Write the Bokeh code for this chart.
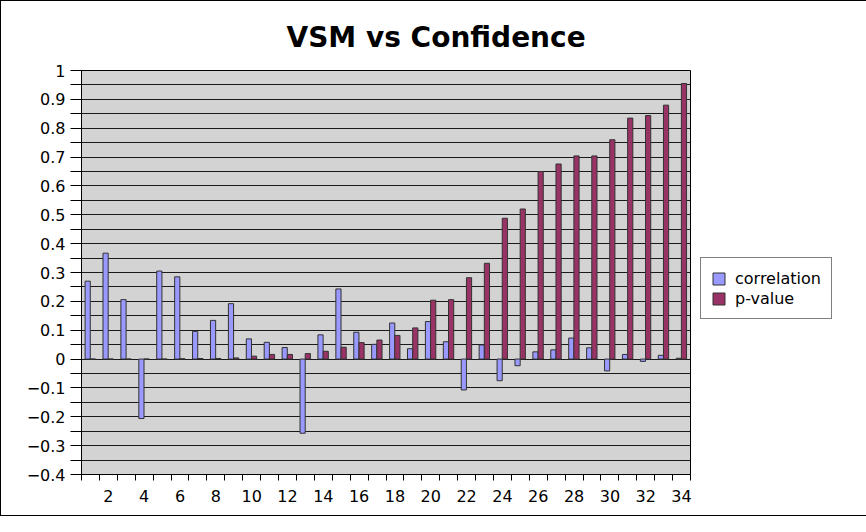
from bokeh.plotting import figure
from bokeh.models import FixedTicker, Legend, LegendItem, ColumnDataSource, Range1d
from bokeh.transform import dodge
from bokeh.embed import file_html
from bokeh.resources import INLINE

categories = list(range(1, 35))
correlation = [0.270, 0.367, 0.206, -0.206, 0.305, 0.285, 0.096, 0.134, 0.192, 0.070,
               0.058, 0.040, -0.257, 0.084, 0.243, 0.093, 0.051, 0.125, 0.036, 0.130,
               0.060, -0.107, 0.049, -0.075, -0.023, 0.025, 0.032, 0.073, 0.039, -0.041,
               0.016, -0.008, 0.013, 0.003]
p_value = [0.000, 0.000, 0.000, 0.000, 0.000, 0.001, 0.002, 0.002, 0.004, 0.010,
           0.016, 0.016, 0.019, 0.027, 0.041, 0.057, 0.066, 0.082, 0.108, 0.204,
           0.206, 0.282, 0.332, 0.488, 0.520, 0.650, 0.676, 0.704, 0.704, 0.760,
           0.835, 0.844, 0.880, 0.955]
y_ticks = [-0.4, -0.3, -0.2, -0.1, 0.0, 0.1, 0.2, 0.3, 0.4, 0.5, 0.6, 0.7, 0.8, 0.9, 1.0]
y_minor = [-0.35, -0.25, -0.15, -0.05, 0.05, 0.15, 0.25, 0.35, 0.45, 0.55, 0.65, 0.75, 0.85, 0.95]
y_labels = ["\u22120.4", "\u22120.3", "\u22120.2", "\u22120.1", "0", "0.1", "0.2", "0.3",
            "0.4", "0.5", "0.6", "0.7", "0.8", "0.9", "1"]
x_label_ticks = [2, 4, 6, 8, 10, 12, 14, 16, 18, 20, 22, 24, 26, 28, 30, 32, 34]
x_bounds = [c - 0.5 for c in categories] + [34.5]

FONT = "DejaVu Sans"

src = ColumnDataSource(dict(cat=categories, corr=correlation, pv=p_value))

p = figure(frame_width=609, frame_height=404, output_backend="svg", toolbar_location=None,
           x_range=Range1d(0.5, 34.5), y_range=Range1d(-0.4, 1.0),
           min_border_left=80, min_border_right=140, min_border_top=69, min_border_bottom=41)
p.styles = {"border": "1px solid black"}

p.background_fill_color = "#d3d3d3"
p.border_fill_color = "white"
p.outline_line_color = "black"
p.outline_line_width = 1

r1 = p.vbar(x=dodge("cat", -0.155, range=p.x_range), top="corr", bottom=0, width=0.29,
            source=src, fill_color="#9999ff", line_color="#333333", line_width=1)
r2 = p.vbar(x=dodge("cat", 0.135, range=p.x_range), top="pv", bottom=0, width=0.29,
            source=src, fill_color="#993366", line_color="#333333", line_width=1)

# y axis
p.yaxis.ticker = FixedTicker(ticks=y_ticks, minor_ticks=y_minor)
p.yaxis.major_label_overrides = {t: l for t, l in zip(y_ticks, y_labels)}
p.yaxis.major_tick_out = 11
p.yaxis.major_tick_in = 0
p.yaxis.minor_tick_out = 11
p.yaxis.minor_tick_in = 0
p.yaxis.major_tick_line_color = "black"
p.yaxis.minor_tick_line_color = "black"
p.yaxis.axis_line_color = "black"
p.yaxis.major_label_text_font = FONT
p.yaxis.major_label_text_font_size = "16px"
p.yaxis.major_label_text_color = "black"
p.yaxis.major_label_standoff = 5

# x axis
p.xaxis.ticker = FixedTicker(ticks=x_label_ticks, minor_ticks=x_bounds)
p.xaxis.major_tick_out = 0
p.xaxis.major_tick_in = 0
p.xaxis.minor_tick_out = 6
p.xaxis.minor_tick_in = 0
p.xaxis.minor_tick_line_color = "black"
p.xaxis.axis_line_color = "black"
p.xaxis.major_label_text_font = FONT
p.xaxis.major_label_text_font_size = "16px"
p.xaxis.major_label_text_color = "black"
p.xaxis.major_label_standoff = 9

# grid
p.xgrid.visible = False
p.ygrid.ticker = FixedTicker(ticks=y_ticks, minor_ticks=y_minor)
p.ygrid.grid_line_color = "#1a1a1a"
p.ygrid.minor_grid_line_color = "#1a1a1a"
p.ygrid.grid_line_width = 1
p.ygrid.minor_grid_line_width = 1

# title
p.title.text = "VSM vs Confidence"
p.title.text_font = FONT
p.title.text_font_size = "28px"
p.title.text_font_style = "bold"
p.title.align = "left"
p.title.offset = 205
p.title.standoff = 34
p.title.text_color = "black"

legend = Legend(items=[LegendItem(label="correlation", renderers=[r1]),
                       LegendItem(label="p-value", renderers=[r2])],
                location=(10, 155), orientation="vertical",
                border_line_color="black", border_line_width=1,
                background_fill_color="white", background_fill_alpha=1,
                label_text_font=FONT, label_text_font_size="16px",
                label_text_color="black",
                glyph_width=15, glyph_height=15, label_height=20,
                label_standoff=9, spacing=0, padding=10, margin=0)
p.add_layout(legend, "right")

open("out.html", "w").write(file_html(p, INLINE))
